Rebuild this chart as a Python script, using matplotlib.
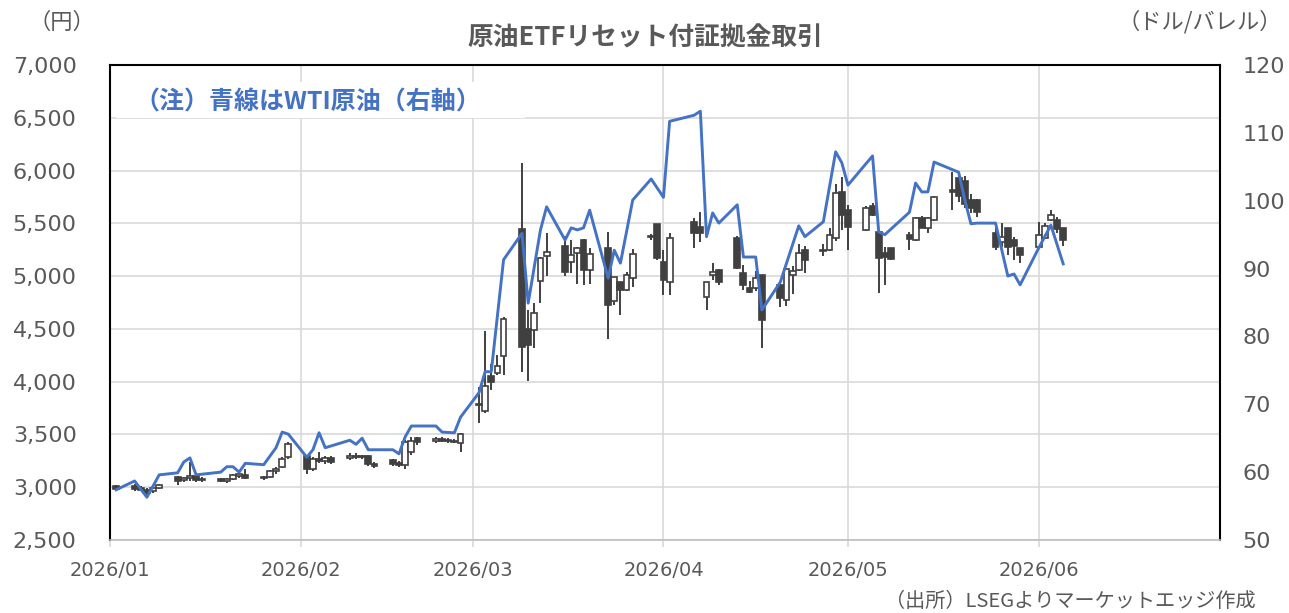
import numpy as np
import pandas as pd
import matplotlib
matplotlib.use("Agg")
import matplotlib.pyplot as plt
import matplotlib.dates as mdates
from matplotlib.patches import Rectangle

plt.rcParams['font.family'] = ['DejaVu Sans', 'Noto Sans CJK JP']

# ETF daily candles (yen)
dates = ["2026-01-02",
         "2026-01-05", "2026-01-06", "2026-01-07", "2026-01-08", "2026-01-09",
         "2026-01-12", "2026-01-13", "2026-01-14", "2026-01-15", "2026-01-16",
         "2026-01-19", "2026-01-20", "2026-01-21", "2026-01-22", "2026-01-23",
         "2026-01-26", "2026-01-27", "2026-01-28", "2026-01-29", "2026-01-30",
         "2026-02-02", "2026-02-03", "2026-02-04", "2026-02-05", "2026-02-06",
         "2026-02-09", "2026-02-10", "2026-02-11", "2026-02-12", "2026-02-13",
         "2026-02-16", "2026-02-17", "2026-02-18", "2026-02-19", "2026-02-20",
         "2026-02-23", "2026-02-24", "2026-02-25", "2026-02-26", "2026-02-27",
         "2026-03-02", "2026-03-03", "2026-03-04", "2026-03-05", "2026-03-06",
         "2026-03-09", "2026-03-10", "2026-03-11", "2026-03-12", "2026-03-13",
         "2026-03-16", "2026-03-17", "2026-03-18", "2026-03-19", "2026-03-20",
         "2026-03-23", "2026-03-24", "2026-03-25", "2026-03-26", "2026-03-27",
         "2026-03-30", "2026-03-31", "2026-04-01", "2026-04-02",
         "2026-04-06", "2026-04-07", "2026-04-08", "2026-04-09", "2026-04-10",
         "2026-04-13", "2026-04-14", "2026-04-15", "2026-04-16", "2026-04-17",
         "2026-04-20", "2026-04-21", "2026-04-22", "2026-04-23", "2026-04-24",
         "2026-04-27", "2026-04-28", "2026-04-29", "2026-04-30", "2026-05-01",
         "2026-05-04", "2026-05-05", "2026-05-06", "2026-05-07", "2026-05-08",
         "2026-05-11", "2026-05-12", "2026-05-13", "2026-05-14", "2026-05-15",
         "2026-05-18", "2026-05-19", "2026-05-20", "2026-05-21", "2026-05-22",
         "2026-05-25", "2026-05-26", "2026-05-27", "2026-05-28", "2026-05-29",
         "2026-06-01", "2026-06-02", "2026-06-03", "2026-06-04", "2026-06-05"]

opens = [3010,
         3010, 2990, 2970, 2960, 2990,
         3100, 3070, 3090, 3110, 3080,
         3080, 3060, 3080, 3110, 3120,
         3100, 3100, 3150, 3190, 3290,
         3300, 3170, 3270, 3250, 3280,
         3280, 3300, 3290, 3300, 3220,
         3260, 3230, 3210, 3330, 3470,
         3440, 3460, 3450, 3440, 3420,
         3790, 3720, 4050, 4080, 4240,
         5450, 4500, 4490, 4950, 5190,
         5290, 5130, 5220, 5340, 5060,
         5270, 4760, 4940, 4870, 4980,
         5370, 5490, 5130, 4940,
         5510, 5470, 4800, 5010, 5060,
         5360, 5030, 4890, 4890, 5010,
         4920, 4770, 5010, 5060, 5250,
         5240, 5250, 5360, 5800, 5630,
         5440, 5660, 5420, 5220, 5270,
         5390, 5340, 5550, 5460, 5530,
         5820, 5930, 5900, 5720, 5720,
         5410, 5320, 5460, 5340, 5270,
         5280, 5360, 5530, 5530, 5460]

highs = [3020,
         3030, 3010, 2990, 3000, 3030,
         3110, 3100, 3240, 3130, 3100,
         3090, 3090, 3130, 3140, 3170,
         3110, 3160, 3190, 3290, 3430,
         3310, 3290, 3330, 3300, 3300,
         3320, 3320, 3310, 3310, 3240,
         3270, 3250, 3450, 3480, 3480,
         3480, 3480, 3470, 3460, 3510,
         3950, 4480, 4170, 4250, 4610,
         6070, 4680, 4750, 5180, 5410,
         5380, 5340, 5280, 5350, 5270,
         5420, 4990, 4940, 5040, 5260,
         5400, 5490, 5250, 5410,
         5550, 5610, 4940, 5120, 5070,
         5380, 5110, 4950, 5050, 5010,
         4940, 5070, 5100, 5300, 5290,
         5300, 5460, 5870, 5940, 5670,
         5660, 5690, 5420, 5280, 5270,
         5420, 5560, 5570, 5560, 5760,
         5990, 5960, 5950, 5780, 5730,
         5460, 5500, 5460, 5370, 5270,
         5510, 5500, 5630, 5560, 5460]

lows = [2970,
        2960, 2960, 2930, 2950, 2980,
        3020, 3050, 3060, 3050, 3050,
        3050, 3040, 3070, 3090, 3080,
        3070, 3090, 3130, 3180, 3270,
        3130, 3150, 3230, 3220, 3220,
        3260, 3270, 3270, 3200, 3180,
        3200, 3190, 3170, 3310, 3400,
        3420, 3430, 3420, 3420, 3330,
        3610, 3700, 3920, 4060, 4060,
        4090, 4010, 4320, 4750, 5000,
        5000, 5030, 4930, 4920, 4930,
        4400, 4730, 4630, 4860, 4900,
        5340, 5150, 4820, 4820,
        5270, 5320, 4680, 4960, 4920,
        5070, 4870, 4840, 4860, 4320,
        4710, 4720, 4830, 5050, 5030,
        5190, 5240, 5330, 5440, 5250,
        5430, 5570, 4840, 4920, 5150,
        5250, 5330, 5460, 5410, 5520,
        5630, 5700, 5650, 5600, 5560,
        5250, 5280, 5200, 5150, 5120,
        5280, 5350, 5520, 5410, 5290]

closes = [2980,
          2980, 2970, 2950, 2990, 3020,
          3060, 3090, 3110, 3070, 3070,
          3060, 3080, 3120, 3130, 3090,
          3090, 3150, 3170, 3270, 3410,
          3170, 3270, 3250, 3280, 3240,
          3300, 3290, 3300, 3220, 3200,
          3220, 3210, 3430, 3440, 3430,
          3460, 3440, 3440, 3430, 3500,
          3780, 3960, 4000, 4150, 4590,
          4330, 4350, 4650, 5170, 5230,
          5040, 5200, 5270, 5060, 5210,
          4730, 4990, 4870, 5010, 5210,
          5375, 5170, 4960, 5360,
          5410, 5410, 4940, 5040, 4940,
          5080, 4920, 4850, 4980, 4580,
          4790, 5070, 5050, 5220, 5150,
          5250, 5390, 5790, 5580, 5470,
          5650, 5580, 5170, 5180, 5160,
          5350, 5550, 5460, 5550, 5750,
          5800, 5760, 5680, 5650, 5610,
          5280, 5370, 5280, 5290, 5200,
          5390, 5470, 5580, 5450, 5340]

# WTI crude (USD/bbl, right axis)
wti_dates = ["2026-01-02", "2026-01-05", "2026-01-07", "2026-01-09", "2026-01-12",
             "2026-01-13", "2026-01-14", "2026-01-15", "2026-01-19", "2026-01-20",
             "2026-01-21", "2026-01-22", "2026-01-23", "2026-01-26", "2026-01-28",
             "2026-01-29", "2026-01-30", "2026-02-02", "2026-02-03", "2026-02-04",
             "2026-02-05", "2026-02-09", "2026-02-10", "2026-02-11", "2026-02-12",
             "2026-02-16", "2026-02-17", "2026-02-18", "2026-02-19", "2026-02-23",
             "2026-02-24", "2026-02-26", "2026-02-27", "2026-03-02", "2026-03-03",
             "2026-03-04", "2026-03-06", "2026-03-09", "2026-03-10", "2026-03-12",
             "2026-03-13", "2026-03-16", "2026-03-17", "2026-03-18", "2026-03-19",
             "2026-03-20", "2026-03-23", "2026-03-24", "2026-03-25", "2026-03-27",
             "2026-03-30", "2026-04-01", "2026-04-02", "2026-04-06", "2026-04-07",
             "2026-04-08", "2026-04-09", "2026-04-10", "2026-04-13", "2026-04-14",
             "2026-04-16", "2026-04-17", "2026-04-20", "2026-04-23", "2026-04-24",
             "2026-04-27", "2026-04-29", "2026-04-30", "2026-05-01", "2026-05-05",
             "2026-05-06", "2026-05-07", "2026-05-11", "2026-05-12", "2026-05-13",
             "2026-05-14", "2026-05-15", "2026-05-19", "2026-05-20", "2026-05-21",
             "2026-05-22", "2026-05-25", "2026-05-27", "2026-05-28", "2026-05-29",
             "2026-06-01", "2026-06-03", "2026-06-05"]
wti = [57.4, 58.7, 56.3, 59.6, 59.9,
       61.5, 62.1, 59.6, 60.0, 60.8,
       60.8, 60.0, 61.3, 61.1, 63.6,
       65.9, 65.6, 62.2, 63.3, 65.8,
       63.6, 64.7, 64.1, 65.0, 63.3,
       63.3, 62.7, 65.2, 66.8, 66.8,
       65.9, 65.8, 68.1, 71.7, 74.8,
       74.8, 91.3, 95.2, 84.9, 95.7,
       99.1, 94.2, 96.0, 95.7, 96.0,
       98.6, 88.6, 92.7, 90.8, 100.1,
       103.2, 100.5, 111.7, 112.6, 113.2,
       94.7, 98.2, 96.7, 99.4, 91.7,
       91.7, 83.9, 88.0, 96.3, 94.7,
       96.9, 107.2, 105.6, 102.3, 106.6,
       95.4, 95.0, 98.3, 102.6, 101.3,
       101.3, 105.7, 104.2, 100.1, 96.6,
       96.7, 96.7, 88.9, 89.2, 87.6,
       93.0, 96.4, 90.7]

month_ticks = ["2026-01-01", "2026-02-01", "2026-03-01", "2026-04-01", "2026-05-01", "2026-06-01"]

dark = "#404040"
gray_text = "#595959"
jp = ["Noto Sans CJK JP", "DejaVu Sans"]

x = mdates.date2num(pd.to_datetime(dates))
o = np.array(opens, dtype=float)
h = np.array(highs, dtype=float)
l = np.array(lows, dtype=float)
c = np.array(closes, dtype=float)

fig = plt.figure(figsize=(12.89, 6.13), dpi=100)
ax = fig.add_axes([110 / 1289, 1 - 540 / 613, 1110 / 1289, 475 / 613])

# wicks then bodies
ax.vlines(x, l, h, color=dark, linewidth=1.4, zorder=3)
up = c >= o
body_low = np.minimum(o, c)
body_h = np.maximum(np.abs(c - o), 10)
ax.bar(x[up], body_h[up], bottom=body_low[up], width=0.95,
       facecolor="white", edgecolor=dark, linewidth=1.2, zorder=4)
ax.bar(x[~up], body_h[~up], bottom=body_low[~up], width=0.95,
       facecolor=dark, edgecolor=dark, linewidth=1.2, zorder=4)

ax.set_ylim(2500, 7000)
ax.set_yticks(np.arange(2500, 7001, 500))
ax.set_yticklabels([f"{v:,}" for v in range(2500, 7001, 500)])
ax.set_xlim(mdates.date2num(pd.Timestamp("2026-01-01")),
            mdates.date2num(pd.Timestamp("2026-06-30 12:00")))
ax.set_xticks(mdates.date2num(pd.to_datetime(month_ticks)))
ax.set_xticklabels([m[:7].replace("-", "/") for m in month_ticks])
ax.grid(True, color="#d9d9d9", linewidth=1.2, zorder=0)
ax.set_axisbelow(True)
ax.tick_params(axis="y", length=0, pad=24, labelsize=16, labelcolor=gray_text)
ax.tick_params(axis="x", length=5, width=1.2, color="#d9d9d9", pad=10,
               labelsize=14, labelcolor=gray_text)
for s in ["left", "top", "right"]:
    ax.spines[s].set_color("black")
    ax.spines[s].set_linewidth(1.5)
ax.spines["bottom"].set_color("#bfbfbf")
ax.spines["bottom"].set_linewidth(1.2)

ax2 = ax.twinx()
ax2.plot(mdates.date2num(pd.to_datetime(wti_dates)), wti, color="#4472C4", linewidth=2.1, zorder=5)
ax2.set_ylim(50, 120)
ax2.set_yticks(np.arange(50, 121, 10))
ax2.tick_params(axis="y", length=0, pad=16, labelsize=16, labelcolor=gray_text)
for s in ax2.spines.values():
    s.set_visible(False)

# white label box behind the note
ax2.add_patch(Rectangle((0.005, 0.888), 0.369, 0.076, transform=ax2.transAxes,
                        facecolor="white", edgecolor="none", zorder=9))
ax2.text(0.022, 0.921, "（注）青線はWTI原油（右軸）", transform=ax2.transAxes,
         fontsize=18, fontweight="bold", color="#4472C4", va="center", ha="left",
         family=jp, zorder=10)

fig.text(645 / 1289, 1 - 38 / 613, "原油ETFリセット付証拠金取引", ha="center", va="center",
         fontsize=18.5, fontweight="bold", color=gray_text, family=jp)
fig.text(62 / 1289, 1 - 22 / 613, "（円）", ha="center", va="center",
         fontsize=16, color=gray_text, family=jp)
fig.text(1200 / 1289, 1 - 22 / 613, "（ドル/バレル）", ha="center", va="center",
         fontsize=16, color=gray_text, family=jp)
fig.text(1256 / 1289, 1 - 601 / 613, "（出所）LSEGよりマーケットエッジ作成", ha="right", va="center",
         fontsize=14.5, color=gray_text, family=jp)

fig.savefig("out.png", dpi=100, facecolor="white")
